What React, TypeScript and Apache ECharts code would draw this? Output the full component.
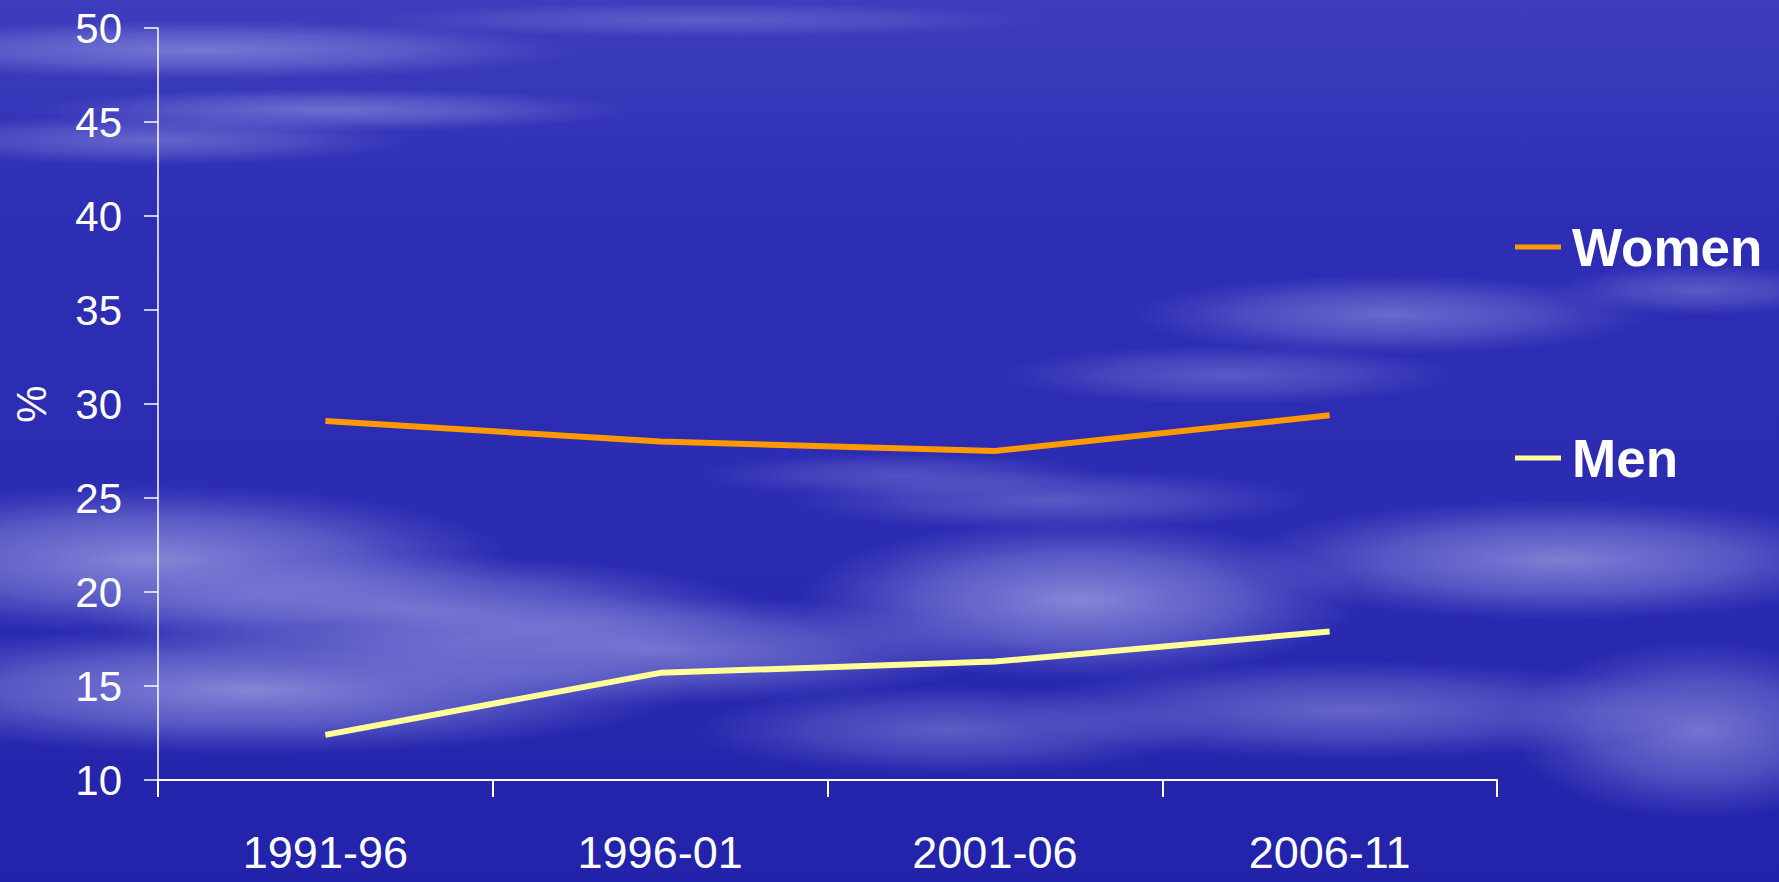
import React, { useEffect, useRef } from "react";
import * as echarts from "echarts";

const categories = ["1991-96", "1996-01", "2001-06", "2006-11"];
const women = [29.1, 28.0, 27.5, 29.4];
const men = [12.4, 15.7, 16.3, 17.9];
const seriesNames = ["Women", "Men"];
const yMin = 10;
const yMax = 50;
const yInterval = 5;

function cloud(cx: number, cy: number, rx: number, ry: number, a: number) {
  return {
    type: "ellipse",
    silent: true,
    z: -10,
    shape: { cx, cy, rx, ry },
    style: {
      fill: {
        type: "radial",
        x: 0.5,
        y: 0.5,
        r: 0.5,
        colorStops: [
          { offset: 0, color: `rgba(195,195,242,${a})` },
          { offset: 0.55, color: `rgba(175,175,236,${a * 0.6})` },
          { offset: 1, color: "rgba(150,150,230,0)" },
        ],
      },
    },
  };
}

export default function App() {
  const ref = useRef<HTMLDivElement>(null);
  useEffect(() => {
    const chart = echarts.init(ref.current!, null, { renderer: "svg" });
    const font = "Liberation Sans, Arial, sans-serif";
    chart.setOption({
      animation: false,
      backgroundColor: {
        type: "linear",
        x: 0,
        y: 0,
        x2: 0,
        y2: 1,
        colorStops: [
          { offset: 0, color: "#3d3dbd" },
          { offset: 0.25, color: "#2e2eb5" },
          { offset: 0.6, color: "#2c2cb2" },
          { offset: 1, color: "#2222aa" },
        ],
      },
      graphic: [
        cloud(200, 50, 380, 30, 0.45),
        cloud(330, 110, 300, 22, 0.4),
        cloud(150, 140, 260, 25, 0.35),
        cloud(700, 20, 350, 18, 0.25),
        cloud(1390, 315, 260, 40, 0.4),
        cloud(1230, 375, 230, 30, 0.3),
        cloud(1700, 290, 150, 25, 0.3),
        cloud(150, 560, 360, 75, 0.6),
        cloud(420, 610, 340, 55, 0.5),
        cloud(250, 690, 440, 65, 0.6),
        cloud(650, 650, 350, 55, 0.5),
        cloud(1080, 600, 280, 80, 0.6),
        cloud(1050, 500, 260, 30, 0.3),
        cloud(1560, 560, 320, 60, 0.55),
        cloud(1350, 710, 340, 50, 0.4),
        cloud(1700, 730, 190, 90, 0.5),
        cloud(950, 730, 260, 45, 0.35),
        cloud(900, 475, 200, 22, 0.25),
      ],
      grid: { left: 158, right: 282, top: 28, bottom: 102, containLabel: false },
      legend: {
        data: seriesNames,
        orient: "vertical",
        left: 1510,
        top: 212,
        itemWidth: 46,
        itemHeight: 5,
        itemGap: 151,
        icon: "rect",
        textStyle: {
          color: "#ffffff",
          fontFamily: font,
          fontWeight: "bold",
          fontSize: 53,
          lineHeight: 60,
          padding: [0, 0, 0, 6],
        },
      },
      xAxis: {
        type: "category",
        data: categories,
        boundaryGap: true,
        axisLine: { lineStyle: { color: "#ffffff", width: 2 } },
        axisTick: { show: true, length: 17, lineStyle: { color: "#ffffff", width: 2 } },
        axisLabel: {
          color: "#ffffff",
          fontFamily: font,
          fontSize: 45,
          lineHeight: 44,
          margin: 50,
        },
        splitLine: { show: false },
      },
      yAxis: {
        type: "value",
        min: yMin,
        max: yMax,
        interval: yInterval,
        name: "%",
        nameLocation: "middle",
        nameRotate: 90,
        nameGap: 106,
        nameTextStyle: { color: "#ffffff", fontFamily: font, fontSize: 42 },
        axisLine: { show: true, lineStyle: { color: "#ffffff", width: 1.5 } },
        axisTick: { show: true, length: 14, lineStyle: { color: "#ffffff", width: 1.5 } },
        axisLabel: { color: "#ffffff", fontFamily: font, fontSize: 42, margin: 36 },
        splitLine: { show: false },
      },
      series: [
        {
          name: seriesNames[0],
          type: "line",
          data: women,
          symbol: "none",
          color: "#ff9900",
          lineStyle: { color: "#ff9900", width: 6 },
        },
        {
          name: seriesNames[1],
          type: "line",
          data: men,
          symbol: "none",
          color: "#ffff99",
          lineStyle: { color: "#ffff99", width: 6 },
        },
      ],
    });
    return () => chart.dispose();
  }, []);
  return (
    <div
      ref={ref}
      style={{ position: "fixed", left: 0, top: 0, width: 1779, height: 882 }}
    />
  );
}
